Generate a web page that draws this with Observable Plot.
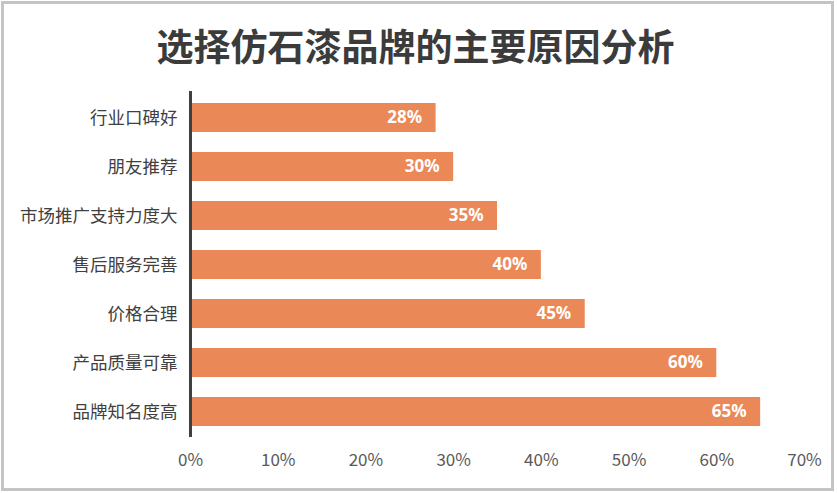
<!DOCTYPE html>
<html>
<head>
<meta charset="utf-8">
<script src="https://cdn.jsdelivr.net/npm/d3@7"></script>
<script src="https://cdn.jsdelivr.net/npm/@observablehq/plot@0.6"></script>
<style>
  html, body { margin: 0; padding: 0; background: #fff; }
  #wrap { position: relative; width: 837px; height: 493px; overflow: hidden; font-family: "Noto Sans CJK SC", "Noto Sans", sans-serif; }
  #frame { position: absolute; left: 1px; top: 1px; width: 833px; height: 490px; box-sizing: border-box; border: 3px solid #c4c4c4; }
  #title { position: absolute; left: 0; width: 831px; top: 19px; text-align: center; font-size: 37px; font-weight: 700; color: #3b3b3b; line-height: 52px; letter-spacing: 0px; }
  #chart { position: absolute; left: 0; top: 0; }
</style>
</head>
<body>
<div id="wrap">
  <div id="frame"></div>
  <div id="chart"></div>
  <div id="title">选择仿石漆品牌的主要原因分析</div>
</div>
<script>
const categories = ["行业口碑好", "朋友推荐", "市场推广支持力度大", "售后服务完善", "价格合理", "产品质量可靠", "品牌知名度高"];
const values = [0.28, 0.30, 0.35, 0.40, 0.45, 0.60, 0.65];
const xTicks = [0, 0.1, 0.2, 0.3, 0.4, 0.5, 0.6, 0.7];

const data = categories.map((c, i) => ({category: c, value: values[i]}));
const pct = d3.format(".0%");

const chart = Plot.plot({
  width: 837,
  height: 493,
  marginLeft: 190,
  marginRight: 33,
  marginTop: 91,
  marginBottom: 56,
  style: {fontFamily: "'Noto Sans CJK SC', 'Noto Sans', sans-serif", background: "transparent", overflow: "visible"},
  x: {domain: [0, 0.7], ticks: xTicks, tickFormat: pct, label: null},
  y: {domain: categories, paddingInner: 0.41, paddingOuter: 0.205, label: null},
  marks: [
    Plot.barX(data, {y: "category", x: "value", fill: "#EA8957"}),
    Plot.text(data, {y: "category", x: "value", text: d => pct(d.value), textAnchor: "end", dx: -14, fill: "white", fontWeight: "bold", fontSize: 17, fontFamily: "'Noto Sans', sans-serif"}),
    Plot.ruleX([0], {stroke: "#404040", strokeWidth: 3}),
    Plot.axisX({ticks: xTicks, tickFormat: pct, tickSize: 0, tickPadding: 16, fontSize: 17, fill: "#595959", label: null}),
    Plot.axisY({tickSize: 0, tickPadding: 13, fontSize: 17.5, fill: "#404040", label: null})
  ]
});
document.getElementById("chart").appendChild(chart);
</script>
</body>
</html>
